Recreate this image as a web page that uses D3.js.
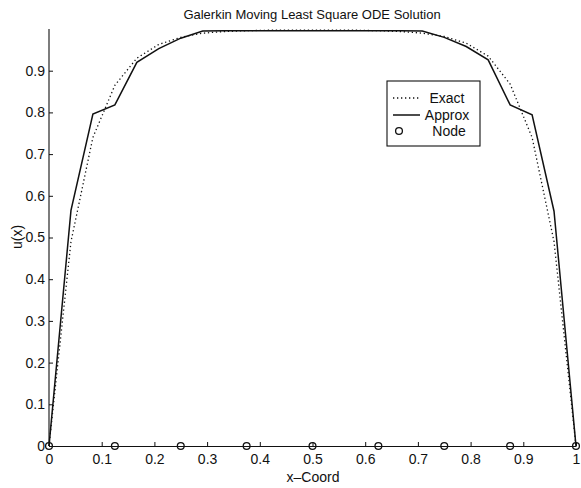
<!DOCTYPE html>
<html>
<head>
<meta charset="utf-8">
<script src="https://cdn.jsdelivr.net/npm/d3@7"></script>
<style>
  html, body { margin: 0; padding: 0; background: #fff; }
  svg text { font-family: "Liberation Sans", Arial, Helvetica, sans-serif; fill: #111; }
</style>
</head>
<body>
<svg id="chart" width="581" height="488"></svg>
<script>
// Sample points (x = k/24) where both solutions are evaluated
const xSamples = [0, 0.0417, 0.0833, 0.125, 0.1667, 0.2083, 0.25, 0.2917, 0.3333, 0.375,
  0.4167, 0.4583, 0.5, 0.5417, 0.5833, 0.625, 0.6667, 0.7083, 0.75, 0.7917,
  0.8333, 0.875, 0.9167, 0.9583, 1];
// Exact solution values
const exactValues = [0, 0.49, 0.74, 0.865, 0.93, 0.963, 0.98, 0.99, 0.994, 0.996,
  0.997, 0.997, 0.997, 0.997, 0.997, 0.996, 0.994, 0.99, 0.982, 0.966,
  0.935, 0.868, 0.74, 0.49, 0];
// Galerkin MLS approximation values
const approxValues = [0, 0.565, 0.796, 0.818, 0.92, 0.953, 0.978, 0.995, 0.996, 0.996,
  0.996, 0.996, 0.996, 0.996, 0.996, 0.996, 0.996, 0.995, 0.98, 0.958,
  0.926, 0.818, 0.794, 0.563, 0];
// Node locations (u = 0 on the axis)
const nodeX = [0, 0.125, 0.25, 0.375, 0.5, 0.625, 0.75, 0.875, 1];
const nodeY = [0, 0, 0, 0, 0, 0, 0, 0, 0];
// Axis ticks
const xTicks = [0, 0.1, 0.2, 0.3, 0.4, 0.5, 0.6, 0.7, 0.8, 0.9, 1];
const xTickLabels = ["0", "0.1", "0.2", "0.3", "0.4", "0.5", "0.6", "0.7", "0.8", "0.9", "1"];
const yTicks = [0, 0.1, 0.2, 0.3, 0.4, 0.5, 0.6, 0.7, 0.8, 0.9];
const yTickLabels = ["0", "0.1", "0.2", "0.3", "0.4", "0.5", "0.6", "0.7", "0.8", "0.9"];
const legendLabels = ["Exact", "Approx", "Node"];

const svg = d3.select("#chart");
const ink = "#111";

const x = d3.scaleLinear().domain([0, 1]).range([49, 576]);
const y = d3.scaleLinear().domain([0, 1]).range([446, 29]);

// Axes: left and bottom only, ticks pointing inward
const xAxis = d3.axisBottom(x).tickValues(xTicks)
  .tickFormat((d, i) => xTickLabels[i]).tickSizeInner(-4).tickSizeOuter(0).tickPadding(8);
const yAxis = d3.axisLeft(y).tickValues(yTicks)
  .tickFormat((d, i) => yTickLabels[i]).tickSizeInner(-4).tickSizeOuter(0).tickPadding(4);

const gx = svg.append("g").attr("transform", `translate(0,${y(0)})`).call(xAxis);
const gy = svg.append("g").attr("transform", `translate(${x(0)},0)`).call(yAxis);
[gx, gy].forEach(g => {
  g.select(".domain").attr("stroke", ink).attr("stroke-width", 1.1);
  g.selectAll(".tick line").attr("stroke", ink).attr("stroke-width", 1);
  g.selectAll(".tick text").attr("font-size", 14).attr("fill", ink)
    .style("font-family", '"Liberation Sans", Arial, sans-serif');
});
// y axis line runs up to the top of the value range
gy.select(".domain").attr("d", `M0,${y(0)}V${y(1)}`);

const line = d3.line().x(d => x(d[0])).y(d => y(d[1]));

// Exact solution (dotted)
svg.append("path")
  .datum(xSamples.map((xv, i) => [xv, exactValues[i]]))
  .attr("d", line).attr("fill", "none")
  .attr("stroke", ink).attr("stroke-width", 1.3)
  .attr("stroke-dasharray", "1.3,2.7");

// Approximate solution (solid)
svg.append("path")
  .datum(xSamples.map((xv, i) => [xv, approxValues[i]]))
  .attr("d", line).attr("fill", "none")
  .attr("stroke", ink).attr("stroke-width", 1.5)
  .attr("stroke-linejoin", "miter");

// Nodes
svg.append("g").selectAll("circle")
  .data(nodeX.map((xv, i) => [xv, nodeY[i]]))
  .join("circle")
  .attr("cx", d => x(d[0])).attr("cy", d => y(d[1])).attr("r", 3.4)
  .attr("fill", "none").attr("stroke", ink).attr("stroke-width", 1.3);

// Title and axis labels
svg.append("text").attr("x", 312).attr("y", 19).attr("text-anchor", "middle")
  .attr("font-size", 13).text("Galerkin Moving Least Square ODE Solution");
svg.append("text").attr("x", 313).attr("y", 482).attr("text-anchor", "middle")
  .attr("font-size", 14).text("x\u2013Coord");
svg.append("text").attr("transform", "translate(22,237) rotate(-90)")
  .attr("text-anchor", "middle").attr("font-size", 14).text("u(x)");

// Legend
const lg = svg.append("g");
lg.append("rect").attr("x", 387).attr("y", 81).attr("width", 93).attr("height", 65)
  .attr("fill", "#fff").attr("stroke", ink).attr("stroke-width", 1.1);
const rowY = [98, 115, 131];
lg.append("line").attr("x1", 393).attr("x2", 420).attr("y1", rowY[0]).attr("y2", rowY[0])
  .attr("stroke", ink).attr("stroke-width", 1.3).attr("stroke-dasharray", "1.3,2.7");
lg.append("line").attr("x1", 393).attr("x2", 420).attr("y1", rowY[1]).attr("y2", rowY[1])
  .attr("stroke", ink).attr("stroke-width", 1.5);
lg.append("circle").attr("cx", 399).attr("cy", rowY[2]).attr("r", 3.4)
  .attr("fill", "none").attr("stroke", ink).attr("stroke-width", 1.3);
lg.selectAll("text.lab").data(legendLabels).join("text").attr("class", "lab")
  .attr("x", (d, i) => i === 2 ? 449 : 447).attr("y", (d, i) => rowY[i])
  .attr("dy", "0.35em").attr("text-anchor", "middle").attr("font-size", 14).text(d => d);
</script>
</body>
</html>
